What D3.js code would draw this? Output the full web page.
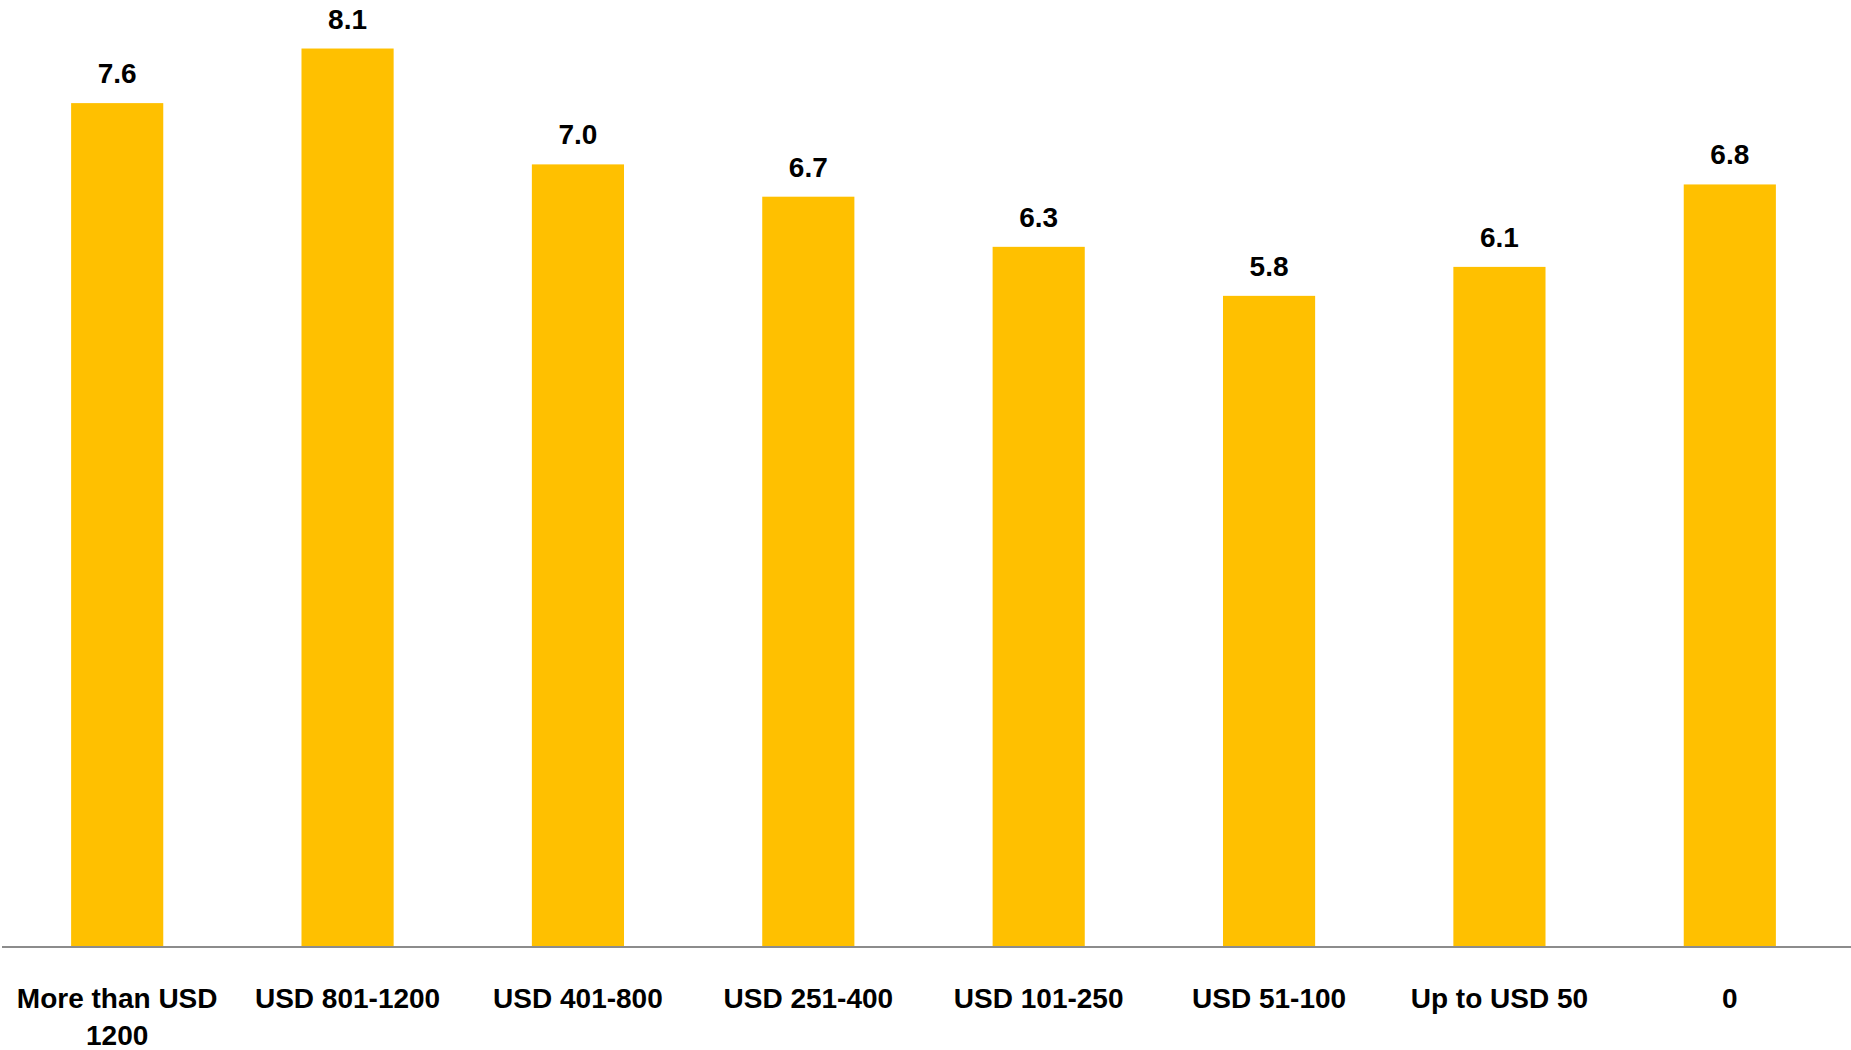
<!DOCTYPE html>
<html>
<head>
<meta charset="utf-8">
<script src="https://cdn.jsdelivr.net/npm/d3@7"></script>
<style>
  html, body { margin: 0; padding: 0; background: #fff; }
  svg { display: block; }
</style>
</head>
<body>
<svg id="chart" width="1851" height="1050"></svg>
<script>
const categories = ["More than USD 1200", "USD 801-1200", "USD 401-800", "USD 251-400", "USD 101-250", "USD 51-100", "Up to USD 50", "0"];
const values = [7.57, 8.06, 7.02, 6.73, 6.28, 5.84, 6.10, 6.84];

const svg = d3.select("#chart");
const W = 1851, H = 1050;
const baseY = 946.5;

const x = d3.scaleBand()
  .domain(categories)
  .range([2, 1845])
  .paddingInner(0.6)
  .paddingOuter(0.3);

const y = d3.scaleLinear()
  .domain([0, 8.5])
  .range([baseY, -0.5]);

const fmt = d3.format(".1f");
const font = "'Liberation Sans', Arial, sans-serif";

// bars
svg.append("g").selectAll("rect")
  .data(values)
  .join("rect")
  .attr("x", (d, i) => x(categories[i]))
  .attr("y", d => y(d))
  .attr("width", x.bandwidth())
  .attr("height", d => y(0) - y(d))
  .attr("fill", "#FFC000");

// value labels
svg.append("g").selectAll("text")
  .data(values)
  .join("text")
  .attr("x", (d, i) => x(categories[i]) + x.bandwidth() / 2)
  .attr("y", d => y(d) - 20)
  .attr("text-anchor", "middle")
  .attr("font-family", font)
  .attr("font-weight", "bold")
  .attr("font-size", 28)
  .attr("fill", "#000")
  .text(d => fmt(d));

// axis
const axis = d3.axisBottom(x).tickSize(0).tickPadding(0);
const gx = svg.append("g")
  .attr("transform", `translate(0,${baseY})`)
  .call(axis);
gx.select(".domain").remove();
gx.append("line")
  .attr("x1", 2).attr("x2", W)
  .attr("y1", 0.5).attr("y2", 0.5)
  .attr("stroke", "#8c8c8c")
  .attr("stroke-width", 2);

gx.selectAll(".tick text")
  .attr("font-family", font)
  .attr("font-weight", "bold")
  .attr("font-size", 28)
  .attr("fill", "#000")
  .attr("dy", null)
  .attr("y", 0)
  .each(function(d) {
    const t = d3.select(this);
    const maxW = x.step() * 0.95;
    const words = d.split(" ");
    t.text(null);
    let lines = [];
    let line = [];
    const probe = t.append("tspan");
    for (const w of words) {
      line.push(w);
      probe.text(line.join(" "));
      if (probe.node().getComputedTextLength() > maxW && line.length > 1) {
        line.pop();
        lines.push(line.join(" "));
        line = [w];
      }
    }
    lines.push(line.join(" "));
    probe.remove();
    lines.forEach((l, i) => {
      t.append("tspan")
        .attr("x", 0)
        .attr("y", 61.5 + i * 37)
        .text(l);
    });
  });
</script>
</body>
</html>
